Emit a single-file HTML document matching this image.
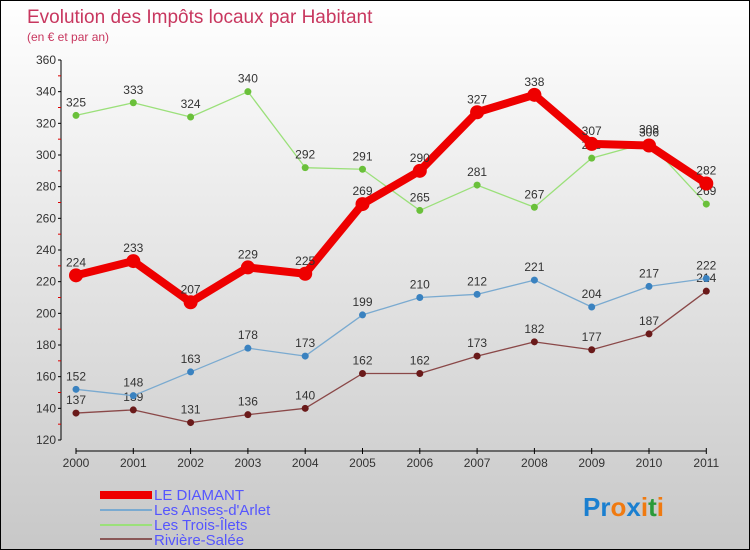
<!DOCTYPE html>
<html><head><meta charset="utf-8"><style>
body{margin:0}
#wrap{width:748px;height:548px;border:1px solid #000;background:linear-gradient(#fff,#c8c8c8);position:relative;overflow:hidden;font-family:"Liberation Sans",sans-serif}
</style></head><body>
<div id="wrap">
<svg id="chart" width="748" height="548" style="position:absolute;left:0;top:0">
<text x="26" y="22" font-size="19" fill="#c8375f">Evolution des Impôts locaux par Habitant</text>
<text x="26" y="40" font-size="12" fill="#c8375f">(en € et par an)</text>
<g id="axes"></g><g id="series"></g>
<g font-size="15" fill="#5555ff">
<rect x="99" y="490" width="52" height="8" fill="#e00"/>
<text x="153" y="499">LE DIAMANT</text>
<rect x="99" y="508" width="52" height="2" fill="#7aaad0"/>
<text x="153" y="514">Les Anses-d'Arlet</text>
<rect x="99" y="523" width="52" height="2" fill="#9be07a"/>
<text x="153" y="529">Les Trois-Îlets</text>
<rect x="99" y="537" width="52" height="2" fill="#8a5858"/>
<text x="153" y="544">Rivière-Salée</text>
</g>
<g font-size="26" font-weight="bold" font-family="Liberation Sans,sans-serif">
<text x="582" y="515"><tspan fill="#1a7fd0">P</tspan><tspan fill="#1a7fd0">r</tspan><tspan fill="#f07a10">o</tspan><tspan fill="#1a7fd0">x</tspan><tspan fill="#f07a10">i</tspan><tspan fill="#2a9a3a">t</tspan><tspan fill="#f07a10">i</tspan></text>
</g>
</svg>
</div>
<script>
const years=[2000,2001,2002,2003,2004,2005,2006,2007,2008,2009,2010,2011];
const yTicks=[120,140,160,180,200,220,240,260,280,300,320,340,360];
const diamant=[224,233,207,229,225,269,290,327,338,307,306,282];
const anses=[152,148,163,178,173,199,210,212,221,204,217,222];
const trois=[325,333,324,340,292,291,265,281,267,298,308,269];
const riviere=[137,139,131,136,140,162,162,173,182,177,187,214];
const NS="http://www.w3.org/2000/svg";
const xs=i=>75+i*57.3;
const ys=v=>439-(v-120)*380/240;
function mk(t,a,p){const e=document.createElementNS(NS,t);for(const k in a)e.setAttribute(k,a[k]);p.appendChild(e);return e;}
const ax=document.getElementById('axes'),se=document.getElementById('series');
let l=mk('line',{x1:60,y1:ys(360),x2:60,y2:ys(120),stroke:'#000'},ax);

yTicks.forEach((v,i)=>{mk('line',{x1:57,y1:ys(v),x2:60,y2:ys(v),stroke:'#000'},ax);
 if(i<yTicks.length-1)mk('line',{x1:57,y1:ys(v+10),x2:60,y2:ys(v+10),stroke:'#d00'},ax);
 const t=mk('text',{x:55,y:ys(v)+4,'text-anchor':'end','font-size':12,fill:'#333'},ax);t.textContent=v;
 });
l=mk('line',{x1:xs(0),y1:450,x2:xs(11),y2:450,stroke:'#000'},ax);

years.forEach((y,i)=>{mk('line',{x1:xs(i),y1:447,x2:xs(i),y2:453,stroke:'#000'},ax);
 const t=mk('text',{x:xs(i),y:466,'text-anchor':'middle','font-size':12,fill:'#333'},ax);t.textContent=y;
 });
function series(d,name,color,w,r,dot){
 const g=mk('g',{},se);
 const p=mk('polyline',{points:d.map((v,i)=>xs(i)+','+ys(v)).join(' '),fill:'none',stroke:color,'stroke-width':w,'stroke-linejoin':'round'},g);
 
 d.forEach((v,i)=>{const c=mk('circle',{cx:xs(i),cy:ys(v),r:r,fill:dot},g);
  
  const t=mk('text',{x:xs(i),y:ys(v)-9,'text-anchor':'middle','font-size':12,fill:'#333'},g);t.textContent=v;
  });
}
series(riviere,'riviere-salee','#8a4848',1.3,3.5,'#6a1a1a');
series(anses,'anses-darlet','#7aaad0',1.3,3.5,'#3a82c0');
series(trois,'trois-ilets','#9be07a',1.3,3.5,'#6ac03a');
series(diamant,'le-diamant','#e00',8,7,'#e00');
</script>
</body></html>
